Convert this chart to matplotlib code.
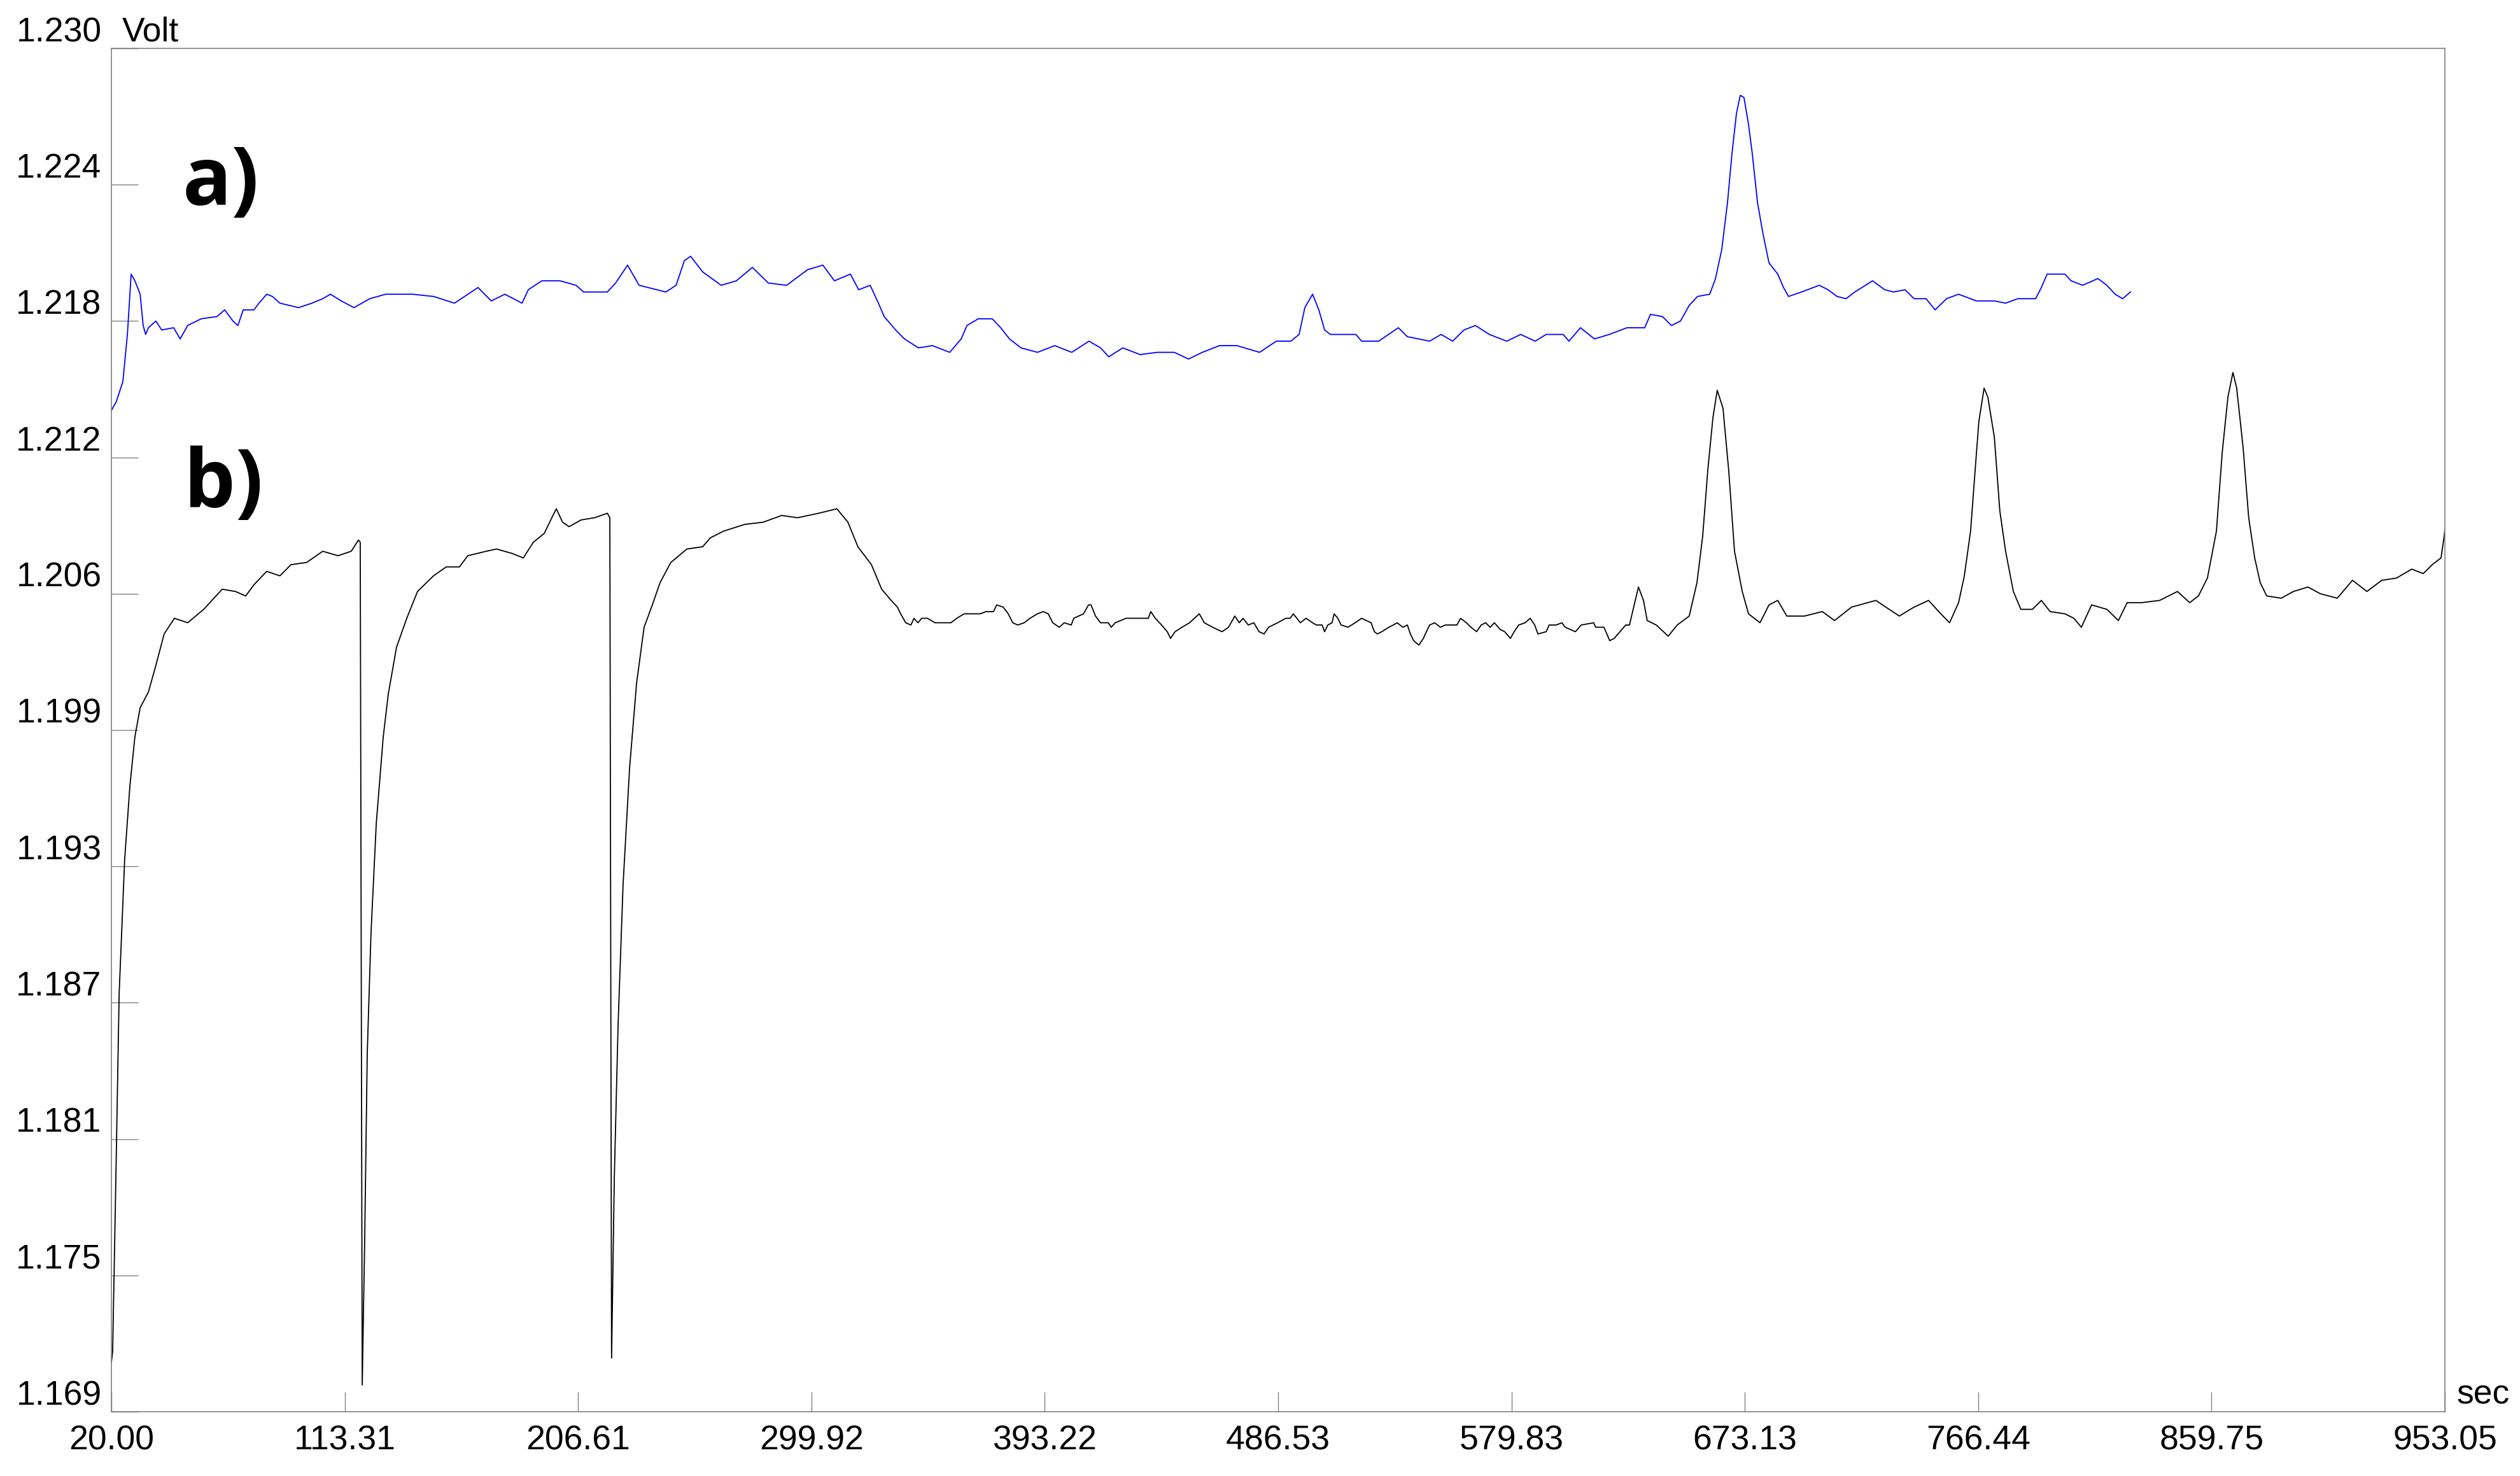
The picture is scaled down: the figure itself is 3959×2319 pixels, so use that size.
import numpy as np
import matplotlib
matplotlib.use("Agg")
import matplotlib.pyplot as plt

# --- data (time in sec, potential in Volt) ---
time_a = [20.0, 22.0, 24.6, 26.4, 27.9, 29.4, 31.5, 32.7, 33.7, 34.8, 37.8, 40.1, 44.9, 47.5, 50.5,
          55.9, 62.2, 65.3, 68.6, 70.6, 72.7, 77.0, 79.0, 82.1, 84.4, 87.4, 94.8, 100.2, 104.5, 107.6,
          111.9, 117.0, 123.3, 129.7, 140.4, 148.8, 157.2, 166.6, 171.9, 177.3, 184.2, 186.7, 192.1,
          199.4, 205.8, 208.8, 218.3, 221.6, 226.4, 231.0, 241.7, 245.8, 249.1, 251.6, 256.4, 263.8,
          269.9, 276.3, 282.7, 290.0, 298.4, 304.5, 309.1, 315.5, 318.8, 323.4, 326.7, 329.0, 333.6,
          337.1, 342.7, 348.3, 355.2, 359.8, 362.1, 366.6, 372.2, 375.6, 379.1, 383.7, 390.3, 397.2,
          404.0, 410.9, 415.5, 418.8, 424.4, 431.3, 438.2, 445.0, 450.7, 456.2, 463.1, 470.0, 479.1,
          485.8, 491.6, 494.9, 497.2, 500.3, 502.8, 505.1, 507.4, 517.6, 519.9, 526.7, 534.6, 538.2,
          547.1, 551.7, 556.3, 560.8, 565.4, 571.0, 577.9, 583.5, 589.3, 593.7, 600.5, 602.8, 607.4,
          613.0, 618.9, 626.0, 633.1, 635.4, 640.2, 643.8, 647.4, 650.9, 654.2, 659.1, 661.4, 663.9,
          666.2, 668.0, 669.8, 671.3, 672.8, 674.6, 676.1, 678.2, 680.4, 682.8, 686.3, 688.6, 690.6,
          695.8, 702.9, 706.4, 710.0, 713.6, 717.1, 724.2, 729.1, 732.6, 737.2, 740.8, 745.6, 749.2,
          753.8, 758.6, 765.7, 772.9, 777.4, 782.3, 789.4, 791.7, 794.0, 801.1, 803.6, 808.2, 814.3,
          817.9, 821.2, 824.2, 827.3]
volt_a = [1.2138, 1.2142, 1.2151, 1.2172, 1.2199, 1.2196, 1.2190, 1.2176, 1.2172, 1.2175, 1.2178,
          1.2174, 1.2175, 1.2170, 1.2176, 1.2179, 1.2180, 1.2183, 1.2178, 1.2176, 1.2183, 1.2183,
          1.2186, 1.2190, 1.2189, 1.2186, 1.2184, 1.2186, 1.2188, 1.2190, 1.2187, 1.2184, 1.2188,
          1.2190, 1.2190, 1.2189, 1.2186, 1.2193, 1.2187, 1.2190, 1.2186, 1.2192, 1.2196, 1.2196,
          1.2194, 1.2191, 1.2191, 1.2195, 1.2203, 1.2194, 1.2191, 1.2194, 1.2205, 1.2207, 1.2200,
          1.2194, 1.2196, 1.2202, 1.2195, 1.2194, 1.2201, 1.2203, 1.2196, 1.2199, 1.2192, 1.2194,
          1.2186, 1.2180, 1.2174, 1.2170, 1.2166, 1.2167, 1.2164, 1.2170, 1.2176, 1.2179, 1.2179,
          1.2175, 1.2170, 1.2166, 1.2164, 1.2167, 1.2164, 1.2169, 1.2166, 1.2162, 1.2166, 1.2163,
          1.2164, 1.2164, 1.2161, 1.2164, 1.2167, 1.2167, 1.2164, 1.2169, 1.2169, 1.2172, 1.2184,
          1.2190, 1.2183, 1.2174, 1.2172, 1.2172, 1.2169, 1.2169, 1.2175, 1.2171, 1.2169, 1.2172,
          1.2169, 1.2174, 1.2176, 1.2172, 1.2169, 1.2172, 1.2169, 1.2172, 1.2172, 1.2169, 1.2175,
          1.2170, 1.2172, 1.2175, 1.2175, 1.2181, 1.2180, 1.2176, 1.2178, 1.2185, 1.2189, 1.2190,
          1.2197, 1.2210, 1.2231, 1.2253, 1.2271, 1.2279, 1.2278, 1.2266, 1.2253, 1.2231, 1.2217,
          1.2204, 1.2199, 1.2193, 1.2189, 1.2191, 1.2194, 1.2192, 1.2189, 1.2188, 1.2191, 1.2196,
          1.2192, 1.2191, 1.2192, 1.2188, 1.2188, 1.2183, 1.2188, 1.2190, 1.2187, 1.2187, 1.2186,
          1.2188, 1.2188, 1.2193, 1.2199, 1.2199, 1.2196, 1.2194, 1.2197, 1.2194, 1.2190, 1.2188,
          1.2191]

time_b = [20.0, 20.5, 21.8, 23.1, 25.3, 27.4, 29.4, 31.5, 34.8, 37.8, 41.1, 45.2, 50.5, 56.9, 64.3,
          69.6, 73.7, 77.0, 82.1, 87.4, 91.8, 98.1, 104.5, 110.6, 115.9, 118.8, 119.5, 120.3, 121.3,
          122.3, 123.8, 125.9, 128.7, 130.7, 134.0, 138.1, 142.4, 148.8, 153.9, 159.2, 162.5, 169.9,
          174.0, 180.3, 184.7, 188.7, 193.1, 196.1, 197.9, 200.4, 203.0, 207.8, 213.2, 218.3, 219.3,
          220.0, 221.1, 222.6, 224.6, 227.2, 230.0, 233.0, 236.3, 239.4, 243.7, 250.1, 256.4, 259.5,
          264.8, 273.2, 280.6, 288.0, 294.4, 302.8, 310.1, 314.5, 318.5, 323.9, 328.0, 331.8, 334.3,
          335.6, 337.6, 339.7, 340.9, 342.5, 344.0, 346.3, 349.3, 352.1, 355.7, 358.0, 361.0, 364.9,
          367.4, 369.7, 372.7, 374.0, 376.6, 378.6, 380.4, 382.4, 385.0, 387.3, 390.3, 392.6, 394.6,
          396.4, 399.0, 401.0, 403.8, 404.8, 408.7, 410.7, 411.7, 413.5, 415.5, 418.6, 419.8, 421.4,
          425.7, 429.2, 434.6, 435.6, 437.4, 439.9, 442.2, 443.5, 445.3, 448.1, 451.1, 455.0, 457.0,
          460.3, 464.1, 466.7, 467.7, 469.2, 471.0, 472.5, 474.6, 476.8, 478.9, 480.9, 482.7, 484.5,
          486.3, 489.6, 491.3, 492.6, 495.4, 497.7, 500.3, 501.8, 504.1, 505.1, 506.4, 508.1, 508.9,
          510.4, 511.7, 514.5, 517.3, 518.6, 519.9, 523.7, 525.0, 526.2, 528.0, 530.8, 532.6, 534.1,
          536.4, 538.2, 539.4, 540.7, 542.8, 544.6, 545.8, 547.1, 549.1, 551.4, 553.4, 558.0, 559.5,
          561.8, 563.6, 565.9, 567.7, 569.5, 571.3, 573.0, 575.3, 577.1, 579.4, 580.9, 582.7, 585.3,
          587.3, 589.1, 590.4, 593.7, 594.9, 597.7, 600.0, 601.3, 605.4, 607.7, 612.7, 613.5, 616.8,
          619.1, 620.9, 623.2, 625.5, 627.0, 630.6, 632.6, 634.1, 637.7, 642.5, 646.1, 650.9, 654.0,
          656.3, 658.3, 660.4, 662.1, 664.4, 666.7, 669.0, 672.1, 674.6, 679.2, 682.8, 686.3, 689.9,
          697.0, 704.1, 709.0, 715.8, 725.5, 734.9, 740.8, 746.6, 751.5, 755.0, 758.6, 760.9, 763.4,
          765.2, 766.7, 768.8, 770.3, 772.9, 775.1, 777.4, 780.5, 783.5, 788.1, 791.7, 795.2, 801.1,
          804.7, 807.7, 811.8, 817.9, 822.5, 826.0, 831.9, 839.0, 846.1, 851.0, 854.5, 858.1, 861.7,
          864.0, 866.3, 868.3, 869.8, 872.4, 874.6, 877.0, 879.2, 881.8, 887.6, 892.5, 898.3, 903.2,
          910.0, 916.1, 921.9, 927.8, 933.7, 939.8, 944.4, 948.0, 951.5, 952.8, 953.05]
volt_b = [1.1712, 1.1717, 1.1795, 1.1877, 1.1937, 1.1970, 1.1992, 1.2005, 1.2012, 1.2024, 1.2038,
          1.2045, 1.2043, 1.2049, 1.2058, 1.2057, 1.2055, 1.2060, 1.2066, 1.2064, 1.2069, 1.2070,
          1.2075, 1.2073, 1.2075, 1.2080, 1.2079, 1.1702, 1.1768, 1.1850, 1.1904, 1.1953, 1.1992,
          1.2011, 1.2032, 1.2045, 1.2057, 1.2064, 1.2068, 1.2068, 1.2073, 1.2075, 1.2076, 1.2074,
          1.2072, 1.2079, 1.2083, 1.2090, 1.2094, 1.2088, 1.2086, 1.2089, 1.2090, 1.2092, 1.2090,
          1.1714, 1.1795, 1.1863, 1.1926, 1.1978, 1.2016, 1.2041, 1.2051, 1.2061, 1.2070, 1.2076,
          1.2077, 1.2081, 1.2084, 1.2087, 1.2088, 1.2091, 1.2090, 1.2092, 1.2094, 1.2088, 1.2077,
          1.2069, 1.2058, 1.2053, 1.2050, 1.2047, 1.2043, 1.2042, 1.2045, 1.2043, 1.2045, 1.2045,
          1.2043, 1.2043, 1.2043, 1.2045, 1.2047, 1.2047, 1.2047, 1.2048, 1.2048, 1.2051, 1.2050,
          1.2047, 1.2043, 1.2042, 1.2043, 1.2045, 1.2047, 1.2048, 1.2047, 1.2043, 1.2041, 1.2043,
          1.2042, 1.2045, 1.2047, 1.2051, 1.2051, 1.2046, 1.2043, 1.2043, 1.2041, 1.2043, 1.2045,
          1.2045, 1.2045, 1.2048, 1.2045, 1.2042, 1.2039, 1.2036, 1.2039, 1.2041, 1.2043, 1.2047,
          1.2043, 1.2041, 1.2039, 1.2041, 1.2043, 1.2046, 1.2043, 1.2045, 1.2042, 1.2043, 1.2039,
          1.2038, 1.2041, 1.2042, 1.2043, 1.2045, 1.2045, 1.2047, 1.2043, 1.2045, 1.2043, 1.2042,
          1.2042, 1.2039, 1.2042, 1.2043, 1.2047, 1.2045, 1.2042, 1.2041, 1.2043, 1.2044, 1.2045,
          1.2043, 1.2039, 1.2038, 1.2039, 1.2041, 1.2042, 1.2043, 1.2041, 1.2042, 1.2038, 1.2035,
          1.2033, 1.2036, 1.2039, 1.2042, 1.2043, 1.2041, 1.2042, 1.2042, 1.2045, 1.2043, 1.2041,
          1.2039, 1.2042, 1.2043, 1.2041, 1.2043, 1.2040, 1.2039, 1.2036, 1.2039, 1.2042, 1.2043,
          1.2045, 1.2042, 1.2038, 1.2039, 1.2042, 1.2042, 1.2043, 1.2041, 1.2039, 1.2042, 1.2043,
          1.2041, 1.2041, 1.2035, 1.2036, 1.2039, 1.2042, 1.2042, 1.2059, 1.2053, 1.2044, 1.2042,
          1.2037, 1.2042, 1.2046, 1.2061, 1.2082, 1.2111, 1.2135, 1.2147, 1.2139, 1.2111, 1.2075,
          1.2057, 1.2047, 1.2043, 1.2051, 1.2053, 1.2046, 1.2046, 1.2048, 1.2044, 1.2050, 1.2053,
          1.2046, 1.2050, 1.2053, 1.2047, 1.2043, 1.2052, 1.2064, 1.2084, 1.2111, 1.2133, 1.2148,
          1.2144, 1.2126, 1.2093, 1.2075, 1.2057, 1.2049, 1.2049, 1.2053, 1.2048, 1.2047, 1.2045,
          1.2041, 1.2051, 1.2049, 1.2044, 1.2052, 1.2052, 1.2053, 1.2057, 1.2052, 1.2055, 1.2063,
          1.2084, 1.2119, 1.2144, 1.2155, 1.2148, 1.2121, 1.2090, 1.2072, 1.2061, 1.2055, 1.2054,
          1.2057, 1.2059, 1.2056, 1.2054, 1.2062, 1.2057, 1.2062, 1.2063, 1.2067, 1.2065, 1.2069,
          1.2072, 1.2082, 1.2085]

x_tick_labels = ["20.00", "113.31", "206.61", "299.92", "393.22", "486.53",
                 "579.83", "673.13", "766.44", "859.75", "953.05"]
y_tick_labels = ["1.169", "1.175", "1.181", "1.187", "1.193", "1.199",
                 "1.206", "1.212", "1.218", "1.224", "1.230"]

t_min, t_max = 20.0, 953.05
v_min, v_max = 1.169, 1.230

# --- figure ---
W, H, DPI = 3959, 2319, 100
fig = plt.figure(figsize=(W / DPI, H / DPI), dpi=DPI)
ax = fig.add_axes([175 / W, 1 - 2218 / H, (3841 - 175) / W, (2218 - 76) / H])

ax.plot(time_a, volt_a, color="#0000ff", lw=1.3)
ax.plot(time_b, volt_b, color="black", lw=1.3)

ax.set_xlim(t_min, t_max)
ax.set_ylim(v_min, v_max)

tick_font = {"family": "Liberation Sans", "size": 38.5}
ax.set_xticks(np.linspace(t_min, t_max, len(x_tick_labels)))
ax.set_xticklabels(x_tick_labels, fontdict=tick_font)
ax.set_yticks(np.linspace(v_min, v_max, len(y_tick_labels)))
ax.set_yticklabels(y_tick_labels, fontdict=tick_font)
for lab in ax.get_yticklabels():
    lab.set_va("bottom")

grey = "#808080"
ax.tick_params(axis="y", direction="in", length=30, width=1.0, color=grey, pad=11)
ax.tick_params(axis="x", direction="in", length=22, width=1.0, color=grey, pad=15)
for s in ax.spines.values():
    s.set_color(grey)
    s.set_linewidth(1.2)

# units
ax.annotate("Volt", xy=(0, 1), xycoords="axes fraction", xytext=(12, 8.5),
            textcoords="offset points", ha="left", va="baseline", **tick_font)
ax.annotate("sec", xy=(1, 0), xycoords="axes fraction", xytext=(13.5, 9.3),
            textcoords="offset points", ha="left", va="baseline", **tick_font)

# panel labels
lab_font = {"family": "Open Sans", "weight": "bold", "size": 92}
ax.text(48.5, 1.2230, "a)", ha="left", va="baseline", **lab_font)
ax.text(49.0, 1.20947, "b)", ha="left", va="baseline", **lab_font)

fig.savefig("out.png", dpi=DPI, facecolor="white")
